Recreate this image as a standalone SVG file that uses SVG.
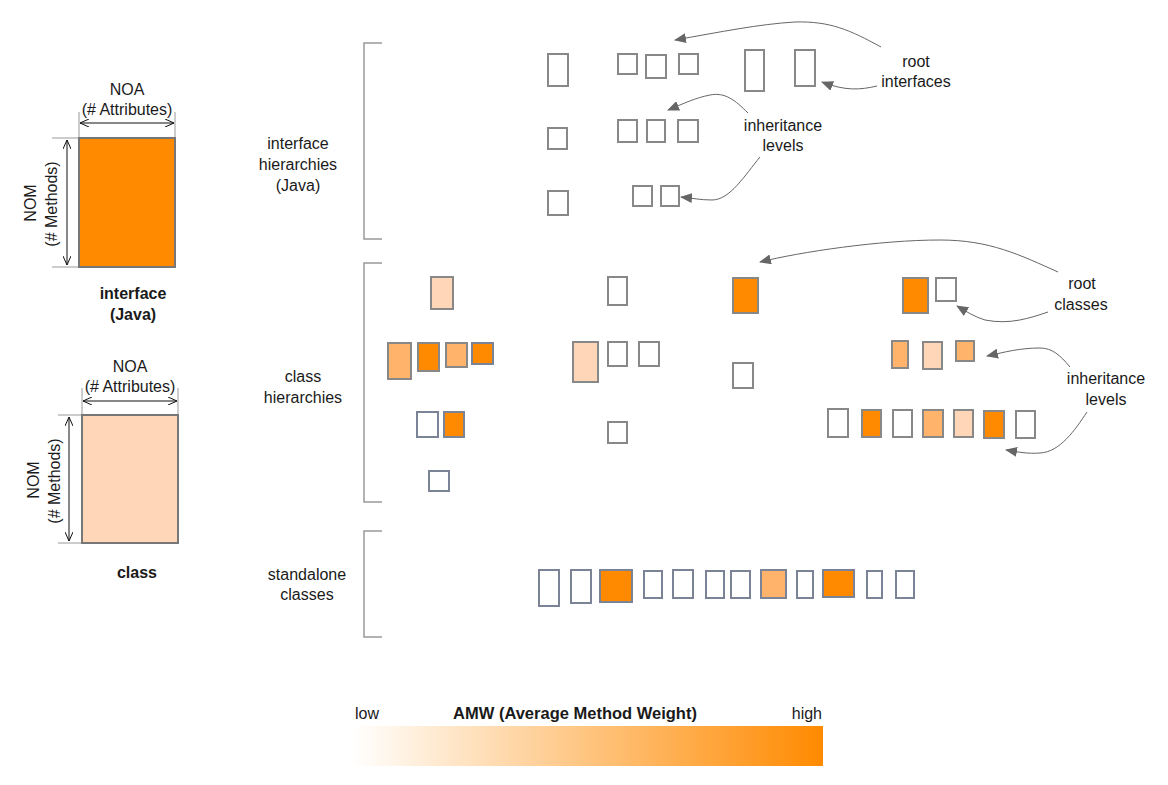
<svg xmlns="http://www.w3.org/2000/svg" width="1168" height="785" viewBox="0 0 1168 785">
<style>
text{font-family:"Liberation Sans",Arial,sans-serif;font-size:16px;fill:#1a1a1a}
.b{font-weight:bold}
.c{text-anchor:middle}
.g{fill:#fff;stroke:#888;stroke-width:2}
.s{fill:#fff;stroke:#7b8396;stroke-width:2}
.d{fill:#FF8A00}
.m{fill:#FFB36B}
.p{fill:#FFD6B8}
.ext{stroke:#999;stroke-width:1;fill:none}
.dim{stroke:#111;stroke-width:1;fill:none;marker-start:url(#oa);marker-end:url(#oa)}
.br{stroke:#999;stroke-width:1.5;fill:none}
.con{stroke:#666;stroke-width:1;fill:none;marker-end:url(#ah)}
</style>
<defs>
<marker id="oa" viewBox="0 0 10 8" refX="9" refY="4" markerWidth="10" markerHeight="8" markerUnits="userSpaceOnUse" orient="auto-start-reverse">
<path d="M0,0 L9,4 L0,8" fill="none" stroke="#111" stroke-width="1"/>
</marker>
<marker id="ah" viewBox="0 0 12 10" refX="11" refY="5" markerWidth="12" markerHeight="10" markerUnits="userSpaceOnUse" orient="auto">
<path d="M0,0 L12,5 L0,10 z" fill="#666"/>
</marker>
<linearGradient id="amw" x1="0" y1="0" x2="1" y2="0">
<stop offset="0" stop-color="#fff"/>
<stop offset="1" stop-color="#FF8A00"/>
</linearGradient>
</defs>

<g id="legend-interface">
<line class="ext" x1="79" y1="112" x2="79" y2="138"/>
<line class="ext" x1="175" y1="112" x2="175" y2="138"/>
<line class="ext" x1="52" y1="138" x2="79" y2="138"/>
<line class="ext" x1="52" y1="267" x2="79" y2="267"/>
<line class="dim" x1="80" y1="123" x2="174" y2="123"/>
<line class="dim" x1="67" y1="140" x2="67" y2="265"/>
<rect x="79" y="138" width="96" height="129" class="d" stroke="#777" stroke-width="2"/>
<text class="c" x="127" y="95">NOA</text>
<text class="c" x="127" y="115">(# Attributes)</text>
<text class="c" transform="translate(36,203) rotate(-90)">NOM</text>
<text class="c" transform="translate(57,204) rotate(-90)">(# Methods)</text>
<text class="c b" x="133" y="299">interface</text>
<text class="c b" x="133" y="320">(Java)</text>
</g>

<g id="legend-class">
<line class="ext" x1="82" y1="388" x2="82" y2="415"/>
<line class="ext" x1="178" y1="388" x2="178" y2="415"/>
<line class="ext" x1="58" y1="415" x2="82" y2="415"/>
<line class="ext" x1="58" y1="543" x2="82" y2="543"/>
<line class="dim" x1="83" y1="401" x2="177" y2="401"/>
<line class="dim" x1="69" y1="417" x2="69" y2="541"/>
<rect x="82" y="415" width="96" height="128" class="p" stroke="#777" stroke-width="2"/>
<text class="c" x="130" y="372">NOA</text>
<text class="c" x="130" y="392">(# Attributes)</text>
<text class="c" transform="translate(39,480) rotate(-90)">NOM</text>
<text class="c" transform="translate(60,481) rotate(-90)">(# Methods)</text>
<text class="c b" x="137" y="578">class</text>
</g>

<g id="group-labels">
<path class="br" d="M382,43 H364 V239 H382"/>
<text class="c" x="298" y="149">interface</text>
<text class="c" x="298" y="170">hierarchies</text>
<text class="c" x="298" y="191">(Java)</text>
<path class="br" d="M382,263 H364 V502 H382"/>
<text class="c" x="303" y="382">class</text>
<text class="c" x="303" y="403">hierarchies</text>
<path class="br" d="M382,531 H364 V637 H382"/>
<text class="c" x="307" y="580">standalone</text>
<text class="c" x="307" y="600">classes</text>
</g>

<g id="interface-hierarchies">
<rect class="g" x="548" y="54" width="20" height="32"/>
<rect class="g" x="618" y="54" width="19" height="20"/>
<rect class="g" x="646" y="55" width="20" height="23"/>
<rect class="g" x="679" y="54" width="19" height="20"/>
<rect class="g" x="745" y="50" width="19" height="41"/>
<rect class="g" x="795" y="50" width="20" height="36"/>
<rect class="g" x="548" y="128" width="19" height="21"/>
<rect class="g" x="618" y="120" width="19" height="22"/>
<rect class="g" x="647" y="120" width="18" height="22"/>
<rect class="g" x="678" y="120" width="20" height="22"/>
<rect class="g" x="548" y="191" width="20" height="24"/>
<rect class="g" x="633" y="186" width="19" height="20"/>
<rect class="g" x="661" y="186" width="18" height="20"/>
</g>

<g id="class-hierarchies">
<rect class="p" stroke="#888" stroke-width="2" x="431" y="277" width="22" height="32"/>
<rect class="m" stroke="#888" stroke-width="2" x="388" y="343" width="23" height="36"/>
<rect class="d" stroke="#888" stroke-width="2" x="418" y="343" width="21" height="28"/>
<rect class="m" stroke="#888" stroke-width="2" x="446" y="343" width="21" height="24"/>
<rect class="d" stroke="#7b8396" stroke-width="2" x="472" y="343" width="21" height="21"/>
<rect class="s" x="417" y="412" width="21" height="25"/>
<rect class="d" stroke="#7b8396" stroke-width="2" x="444" y="412" width="20" height="25"/>
<rect class="s" x="429" y="471" width="20" height="20"/>

<rect class="g" x="608" y="277" width="19" height="28"/>
<rect class="p" stroke="#888" stroke-width="2" x="573" y="342" width="25" height="40"/>
<rect class="g" x="608" y="342" width="19" height="24"/>
<rect class="g" x="639" y="342" width="20" height="24"/>
<rect class="g" x="608" y="422" width="19" height="21"/>

<rect class="d" stroke="#888" stroke-width="2" x="733" y="278" width="25" height="35"/>
<rect class="g" x="733" y="363" width="20" height="25"/>

<rect class="d" stroke="#888" stroke-width="2" x="903" y="278" width="25" height="35"/>
<rect class="g" x="936" y="278" width="20" height="23"/>
<rect class="m" stroke="#888" stroke-width="2" x="892" y="341" width="16" height="27"/>
<rect class="p" stroke="#888" stroke-width="2" x="923" y="342" width="19" height="27"/>
<rect class="m" stroke="#888" stroke-width="2" x="956" y="341" width="18" height="20"/>
<rect class="g" x="828" y="409" width="20" height="28"/>
<rect class="d" stroke="#888" stroke-width="2" x="862" y="410" width="19" height="27"/>
<rect class="g" x="893" y="410" width="19" height="27"/>
<rect class="m" stroke="#888" stroke-width="2" x="923" y="410" width="20" height="27"/>
<rect class="p" stroke="#888" stroke-width="2" x="954" y="410" width="19" height="27"/>
<rect class="d" stroke="#888" stroke-width="2" x="984" y="411" width="20" height="27"/>
<rect class="g" x="1016" y="411" width="19" height="27"/>
</g>

<g id="standalone-classes">
<rect class="s" x="539" y="570" width="20" height="36"/>
<rect class="s" x="571" y="570" width="20" height="33"/>
<rect class="d" stroke="#7b8396" stroke-width="2" x="600" y="570" width="32" height="32"/>
<rect class="s" x="644" y="571" width="18" height="27"/>
<rect class="s" x="673" y="570" width="20" height="28"/>
<rect class="s" x="706" y="571" width="18" height="27"/>
<rect class="s" x="731" y="571" width="19" height="27"/>
<rect class="m" stroke="#7b8396" stroke-width="2" x="761" y="570" width="25" height="28"/>
<rect class="s" x="797" y="571" width="16" height="27"/>
<rect class="d" stroke="#7b8396" stroke-width="2" x="823" y="570" width="31" height="27"/>
<rect class="s" x="867" y="571" width="15" height="27"/>
<rect class="s" x="896" y="571" width="18" height="27"/>
</g>

<g id="annotations">
<text class="c" x="916" y="67">root</text>
<text class="c" x="916" y="87">interfaces</text>
<text class="c" x="783" y="131">inheritance</text>
<text class="c" x="783" y="151">levels</text>
<text class="c" x="1082" y="289">root</text>
<text class="c" x="1081" y="310">classes</text>
<text class="c" x="1106" y="384">inheritance</text>
<text class="c" x="1106" y="405">levels</text>
</g>

<g id="connectors">
<path class="con" d="M881,47 C850,30 830,21 795,22 C760,24 720,32 675,40"/>
<path class="con" d="M877,86 C860,90 845,91 822,82"/>
<path class="con" d="M748,113 C735,100 725,92 710,95 C695,98 685,103 668,110"/>
<path class="con" d="M760,157 C745,175 730,200 712,200 C700,200 692,198 681,197"/>
<path class="con" d="M1058,272 C1020,255 990,240 940,240 C880,240 800,252 760,262"/>
<path class="con" d="M1048,312 C1030,318 1010,325 985,320 C975,317 967,312 957,306"/>
<path class="con" d="M1070,367 C1060,355 1052,348 1040,348 C1020,348 1005,352 987,356"/>
<path class="con" d="M1087,412 C1075,430 1060,452 1040,453 C1028,454 1018,452 1006,450"/>
</g>

<g id="amw-scale">
<rect x="352" y="726" width="471" height="40" fill="url(#amw)"/>
<text x="355" y="719">low</text>
<text class="c b" x="575" y="719" style="font-size:16.5px">AMW (Average Method Weight)</text>
<text x="822" y="719" style="text-anchor:end">high</text>
</g>
</svg>
